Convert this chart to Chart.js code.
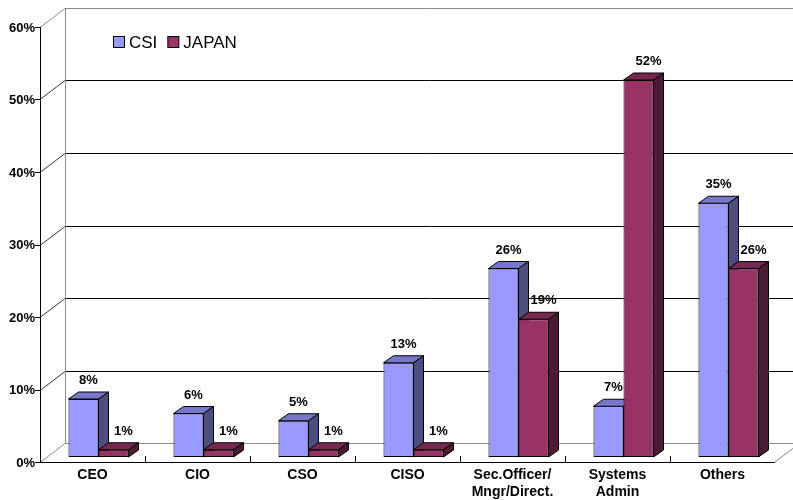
<!DOCTYPE html>
<html lang="en">
<head>
<meta charset="UTF-8">
<title>CSI x JAPAN</title>
<script src="https://cdn.jsdelivr.net/npm/chart.js"></script>
<style>
    body { margin: 0; background: #fff; }
    #wrap { width: 793px; height: 500px; }
</style>
</head>
<body>
<div id="wrap"><canvas id="grafico" width="793" height="500"></canvas></div>
<script>
    // dados do grafico
    var categorias = ['CEO', 'CIO', 'CSO', 'CISO', ['Sec.Officer/', 'Mngr/Direct.'], ['Systems', 'Admin'], 'Others'];
    var valoresCSI = [8, 6, 5, 13, 26, 7, 35];
    var valoresJapan = [1, 1, 1, 1, 19, 52, 26];
    var ticksY = [0, 10, 20, 30, 40, 50, 60];
    var series = ['CSI', 'JAPAN'];

    // cores: frente, topo, lado
    var corFrente = ['#9999ff', '#993366'];
    var corTopo = ['#7777cc', '#772850'];
    var corLado = ['#4d4d80', '#4d1a33'];

    var fonte = '"Liberation Sans", Arial, sans-serif';

    // deslocamentos do "3d" (plano frontal e parede do fundo, relativos ao plano das barras)
    var FR = { x: -6, y: 5 };
    var FU = { x: 19, y: -14 };
    var PB = { x: 10, y: -7 }; // profundidade de cada barra
    var deslocRotulo = [5, 10]; // deslocamento x do rotulo de valor por serie

    function linha(ctx, x1, y1, x2, y2) {
        ctx.beginPath();
        ctx.moveTo(x1, y1);
        ctx.lineTo(x2, y2);
        ctx.stroke();
    }

    function poligono(ctx, pts, cor) {
        ctx.beginPath();
        ctx.moveTo(pts[0][0], pts[0][1]);
        for (var i = 1; i < pts.length; i++) ctx.lineTo(pts[i][0], pts[i][1]);
        ctx.closePath();
        ctx.fillStyle = cor;
        ctx.fill();
        ctx.stroke();
    }

    function caixaFundo(chart) {
        var ctx = chart.ctx, a = chart.chartArea, sy = chart.scales.y, sx = chart.scales.x;
        ctx.save();
        ctx.lineWidth = 1;
        var fl = a.left + FR.x, fr = a.right + FR.x;
        var bl = a.left + FU.x, br = a.right + FU.x;
        var y0 = sy.getPixelForValue(0);
        var yTop = sy.getPixelForValue(ticksY[ticksY.length - 1]);

        ticksY.forEach(function (v, i) {
            var py = sy.getPixelForValue(v);
            var yf = Math.round(py + FR.y) + 0.5, yb = Math.round(py + FU.y) + 0.5;
            var extremo = (i == 0 || i == ticksY.length - 1);
            ctx.strokeStyle = extremo ? '#8c8c8c' : '#000';
            linha(ctx, bl, yb, br, yb);
            ctx.strokeStyle = extremo ? '#8c8c8c' : '#333';
            linha(ctx, fl, yf, bl, yb);
            ctx.strokeStyle = '#000';
            linha(ctx, fl - 5, yf, fl, yf);
        });

        // parede esquerda do fundo
        ctx.strokeStyle = '#8c8c8c';
        linha(ctx, Math.round(bl) + 0.5, y0 + FU.y, Math.round(bl) + 0.5, yTop + FU.y);
        // lado direito do piso
        linha(ctx, fr, y0 + FR.y, br, y0 + FU.y);

        // eixo frontal e piso
        ctx.strokeStyle = '#000';
        linha(ctx, Math.round(fl) + 0.5, y0 + FR.y, Math.round(fl) + 0.5, yTop + FR.y);
        linha(ctx, fl, Math.round(y0 + FR.y) + 0.5, fr, Math.round(y0 + FR.y) + 0.5);

        // marcas entre categorias
        for (var i = 0; i < categorias.length - 1; i++) {
            var xm = (sx.getPixelForValue(i) + sx.getPixelForValue(i + 1)) / 2 + FR.x;
            xm = Math.round(xm) + 0.5;
            linha(ctx, xm, y0 + FR.y, xm, y0 + FR.y - 6);
        }
        ctx.restore();
    }

    var caixa3d = {
        id: 'caixa3d',
        beforeDatasetsDraw: function (chart) {
            var ctx = chart.ctx;
            caixaFundo(chart);

            // desenha categoria por categoria, CSI e depois JAPAN, para o 3d sobrepor certo
            var metas = chart.data.datasets.map(function (ds, k) { return chart.getDatasetMeta(k); });
            for (var i = 0; i < categorias.length; i++) {
                metas.forEach(function (meta, k) {
                    var bar = meta.data[i];
                    bar.draw(ctx, chart.chartArea);
                    var p = bar.getProps(['x', 'y', 'base', 'width'], true);
                    var l = p.x - p.width / 2, r = p.x + p.width / 2;
                    ctx.save();
                    ctx.lineWidth = 1;
                    ctx.strokeStyle = '#000';
                    poligono(ctx, [[l, p.y], [l + PB.x, p.y + PB.y], [r + PB.x, p.y + PB.y], [r, p.y]], corTopo[k]);
                    poligono(ctx, [[r, p.y], [r + PB.x, p.y + PB.y], [r + PB.x, p.base + PB.y], [r, p.base]], corLado[k]);
                    ctx.restore();
                });
            }
            return false; // ja desenhado aqui
        },
        afterDraw: function (chart) {
            var ctx = chart.ctx;
            ctx.save();
            // rotulos de valor
            ctx.font = 'bold 13px ' + fonte;
            ctx.fillStyle = '#000';
            ctx.textAlign = 'center';
            ctx.textBaseline = 'bottom';
            chart.data.datasets.forEach(function (ds, k) {
                chart.getDatasetMeta(k).data.forEach(function (bar, i) {
                    var p = bar.getProps(['x', 'y'], true);
                    ctx.fillText(ds.data[i] + '%', p.x + deslocRotulo[k], p.y - 12);
                });
            });

            // legenda
            ctx.font = '17px ' + fonte;
            ctx.textAlign = 'left';
            ctx.textBaseline = 'middle';
            ctx.lineWidth = 1;
            ctx.strokeStyle = '#000';
            var x = 113, y = 42;
            chart.data.datasets.forEach(function (ds, k) {
                ctx.fillStyle = corFrente[k];
                ctx.fillRect(x + 0.5, y - 5.5, 11, 11);
                ctx.strokeRect(x + 0.5, y - 5.5, 11, 11);
                ctx.fillStyle = '#000';
                ctx.fillText(ds.label, x + 16, y + 1);
                x += 16 + ctx.measureText(ds.label).width + 10;
            });
            ctx.restore();
        }
    };

    var config = {
        type: 'bar',
        data: {
            labels: categorias,
            datasets: [{
                label: series[0],
                data: valoresCSI,
                backgroundColor: corFrente[0],
                borderColor: '#000',
                borderWidth: 1,
                borderSkipped: false,
                categoryPercentage: 0.572,
                barPercentage: 1
            }, {
                label: series[1],
                data: valoresJapan,
                backgroundColor: corFrente[1],
                borderColor: '#000',
                borderWidth: 1,
                borderSkipped: false,
                categoryPercentage: 0.572,
                barPercentage: 1
            }]
        },
        options: {
            responsive: false,
            animation: false,
            devicePixelRatio: 1,
            layout: { padding: { top: 22, right: 12, left: 0, bottom: 0 } },
            plugins: {
                legend: { display: false },
                tooltip: { enabled: false }
            },
            scales: {
                x: {
                    grid: { display: false, drawTicks: false },
                    border: { display: false },
                    ticks: {
                        color: '#000',
                        padding: 10,
                        labelOffset: -6,
                        maxRotation: 0,
                        autoSkip: false,
                        font: { family: fonte, size: 14, weight: 'bold', lineHeight: 1.2 }
                    },
                    afterFit: function (s) { s.height = 43; }
                },
                y: {
                    min: 0,
                    max: 60,
                    grid: { display: false, drawTicks: false },
                    border: { display: false },
                    ticks: {
                        stepSize: 10,
                        color: '#000',
                        padding: 11,
                        labelOffset: 6,
                        font: { family: fonte, size: 13, weight: 'bold' },
                        callback: function (v) { return v + '%'; }
                    },
                    afterFit: function (s) { s.width = 46; }
                }
            }
        },
        plugins: [caixa3d]
    };

    new Chart(document.getElementById('grafico'), config);
</script>
</body>
</html>
